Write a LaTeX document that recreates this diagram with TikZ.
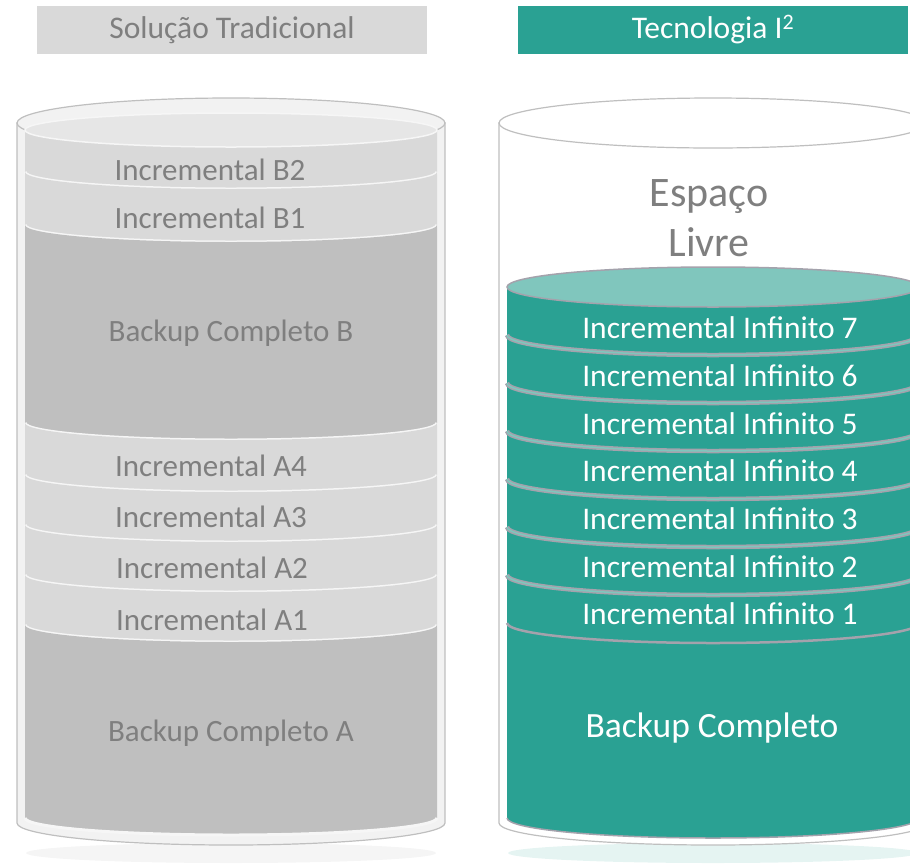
\documentclass[tikz,border=0pt]{standalone}
\usepackage{fontspec}
\setmainfont{Carlito}
\definecolor{tealmain}{HTML}{2AA193}
\definecolor{tealtop}{HTML}{80C6BD}
\definecolor{tealline}{HTML}{A4A2AC}
\definecolor{hdrgray}{HTML}{D9D9D9}
\definecolor{txtgray}{HTML}{7F7F7F}
\definecolor{incgray}{HTML}{D9D9D9}
\definecolor{fullgray}{HTML}{BFBFBF}
\definecolor{topgray}{HTML}{E6E6E6}
\definecolor{rimgray}{HTML}{BFBFBF}
\definecolor{glassgray}{HTML}{F2F2F2}
\tikzset{
  hdr/.style={minimum width=390pt, minimum height=48pt, inner sep=0pt, font=\fontsize{31.5}{33}\selectfont},
  graylabel/.style={text=txtgray, font=\fontsize{31}{33}\selectfont},
  whitelabel/.style={text=white, font=\fontsize{31.5}{33}\selectfont},
  sepwhite/.style={draw=white!93!gray, line width=3pt},
}
\begin{document}
\begin{tikzpicture}[x=1pt,y=-1pt]
            \useasboundingbox (0,0) rectangle (910,863);
            \clip (0,0) rectangle (910,863);
            % Headers
            \node[hdr, fill=hdrgray, text=txtgray] (solucao) at (232,30) {Solução Tradicional};
            \node[hdr, fill=tealmain, text=white] (tecnologia) at (713,30) {Tecnologia I\textsuperscript{2}};
            % Outer cylinders
            \fill[gray!8] (231,853) ellipse [x radius=205, y radius=10];
            \fill[tealmain!12] (713,853) ellipse [x radius=205, y radius=10];
            \foreach \cx/\fl in {231/glassgray, 713/white} {
                \filldraw[fill=\fl, draw=rimgray, line width=1.2pt] (\cx-214,123) -- (\cx-214,823)
                    arc[start angle=180, end angle=0, x radius=214, y radius=22] -- (\cx+214,123) -- cycle;
                \filldraw[fill=\fl, draw=rimgray, line width=1.2pt] (\cx,123) ellipse [x radius=214, y radius=25];
            }
            % Traditional stack
            \foreach \t/\b/\c in {130/172/incgray, 172/225/incgray, 225/423/fullgray, 423/475/incgray,
                                  475/525/incgray, 525/575/incgray, 575/625/incgray, 625/818/fullgray} {
                \fill[\c] (25,\t) -- (25,\b) arc[start angle=180, end angle=0, x radius=206, y radius=17]
                    -- (437,\t) arc[start angle=0, end angle=180, x radius=206, y radius=17] -- cycle;
                \draw[sepwhite] (25,\b) arc[start angle=180, end angle=0, x radius=206, y radius=17];
            }
            \filldraw[fill=topgray, draw=white!93!gray, line width=1.5pt] (231,130) ellipse [x radius=206, y radius=17];
            % I2 stack
            \foreach \t/\b in {287/335, 335/383, 383/431, 431/479, 479/527, 527/575, 575/623, 623/818} {
                \fill[tealmain] (507,\t) -- (507,\b) arc[start angle=180, end angle=0, x radius=206, y radius=20]
                    -- (919,\t) arc[start angle=0, end angle=180, x radius=206, y radius=20] -- cycle;
            }
            \foreach \b in {335, 383, 431, 479, 527, 575} {
                \draw[tealline, line width=4.5pt] (507,\b) arc[start angle=180, end angle=0, x radius=206, y radius=20];
                \draw[tealtop, line width=1.5pt] (507,\b) arc[start angle=180, end angle=0, x radius=206, y radius=20];
            }
            \draw[tealline, line width=2.5pt] (507,623) arc[start angle=180, end angle=0, x radius=206, y radius=20];
            \draw[tealline, line width=1.5pt] (507,818) arc[start angle=180, end angle=0, x radius=206, y radius=20];
            \filldraw[fill=tealtop, draw=tealline, line width=1.5pt] (713,287) ellipse [x radius=206, y radius=20];
            % Labels
            \foreach \n/\x/\y/\s in {incB2/210/170/Incremental B2, incB1/210/218/Incremental B1,
                                     fullB/231/333/Backup Completo B, incA4/211/466/Incremental A4,
                                     incA3/211/517/Incremental A3, incA2/212/568/Incremental A2,
                                     incA1/212/620/Incremental A1, fullA/231/733/Backup Completo A} {
                \node[graylabel] (\n) at (\x,\y) {\s};
            }
            \foreach \i in {1,...,7} {
                \node[whitelabel] (inf\i) at (720,{614-(\i-1)*47.7}) {Incremental Infinito \i};
            }
            \node[whitelabel, font=\fontsize{35.5}{38}\selectfont] (full) at (712,728) {Backup Completo};
            \node[text=txtgray, align=center, font=\fontsize{42}{50}\selectfont] (livre) at (709,218) {Espaço\\Livre};
        \end{tikzpicture}
\end{document}
